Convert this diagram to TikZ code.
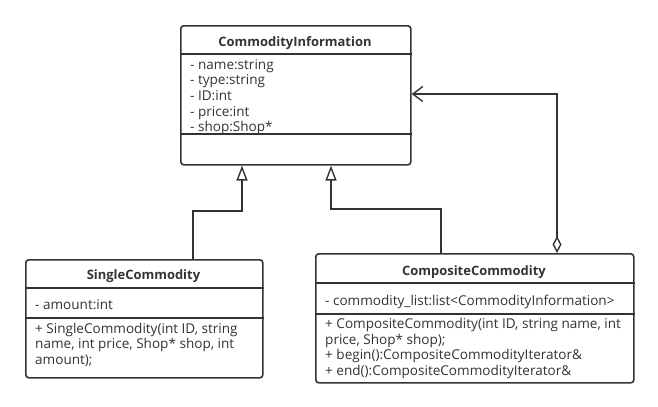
\documentclass[tikz,border=0pt]{standalone}
\usepackage{fontspec}
\setmainfont{Open Sans}
\usetikzlibrary{arrows.meta}
\definecolor{ink}{HTML}{333333}
\tikzset{
  umlbox/.style={draw=ink, line width=1.6bp, rounded corners=3bp, anchor=north west, inner sep=0pt, fill=white},
  divider/.style={draw=ink, line width=1.6bp},
  title/.style={font=\fontsize{13}{15}\selectfont\bfseries, text=ink, anchor=base, inner sep=0pt},
  attr/.style={font=\fontsize{13.6}{15}\selectfont, text=ink, anchor=base west, inner sep=0pt},
  conn/.style={draw=ink, line width=1.6bp},
  inherit/.style={conn, -{Triangle[open, length=15bp, width=11bp, line width=1.4bp]}},
  agg/.style={conn, {Diamond[open, length=17bp, width=9bp, line width=1.4bp]}-{Straight Barb[length=10bp, width=15bp, line width=1.4bp]}},
}
\begin{document}
\begin{tikzpicture}[x=1bp, y=-1bp]
\useasboundingbox[fill=white] (0,0) rectangle (658,406);
% boxes
\node[umlbox, minimum width=230bp, minimum height=139bp] (ci) at (180,25) {};
\node[umlbox, minimum width=237bp, minimum height=118bp] (sc) at (25,259) {};
\node[umlbox, minimum width=318bp, minimum height=129bp] (cc) at (315,253) {};
% dividers
\draw[divider] (ci.west |- 0,54) -- (ci.east |- 0,54);
\draw[divider] (ci.west |- 0,134) -- (ci.east |- 0,134);
\draw[divider] (sc.west |- 0,288) -- (sc.east |- 0,288);
\draw[divider] (sc.west |- 0,318) -- (sc.east |- 0,318);
\draw[divider] (cc.west |- 0,283) -- (cc.east |- 0,283);
\draw[divider] (cc.west |- 0,314) -- (cc.east |- 0,314);
% CommodityInformation
\node[title] (ci-t) at (295,46) {CommodityInformation};
\node[attr] (ci-a1) at (190,69) {- name:string};
\node[attr] (ci-a2) at (190,84.5) {- type:string};
\node[attr] (ci-a3) at (190,100) {- ID:int};
\node[attr] (ci-a4) at (190,116) {- price:int};
\node[attr] (ci-a5) at (190,131.5) {- shop:Shop*};
% SingleCommodity
\node[title] (sc-t) at (143.5,279) {SingleCommodity};
\node[attr] (sc-a1) at (35,309) {- amount:int};
\node[attr] (sc-m1) at (35,333) {+ SingleCommodity(int ID, string};
\node[attr] (sc-m2) at (35,348.5) {name, int price, Shop* shop, int};
\node[attr] (sc-m3) at (35,364) {amount);};
% CompositeCommodity
\node[title] (cc-t) at (474,275) {CompositeCommodity};
\node[attr] (cc-a1) at (325,305) {- commodity\_list:list<CommodityInformation>};
\node[attr] (cc-m1) at (325,328) {+ CompositeCommodity(int ID, string name, int};
\node[attr] (cc-m2) at (325,344) {price, Shop* shop);};
\node[attr] (cc-m3) at (325,359.5) {+ begin():CompositeCommodityIterator\&};
\node[attr] (cc-m4) at (325,375) {+ end():CompositeCommodityIterator\&};
% connectors
\draw[inherit] (193,0 |- sc.north) -- (193,211) -- (242,211) -- (242,0 |- ci.south);
\draw[inherit] (441,0 |- cc.north) -- (441,209) -- (331,209) -- (331,0 |- ci.south);
\draw[agg] (557,0 |- cc.north) -- (557,94) -- (ci.east |- 0,94);
\end{tikzpicture}
\end{document}
